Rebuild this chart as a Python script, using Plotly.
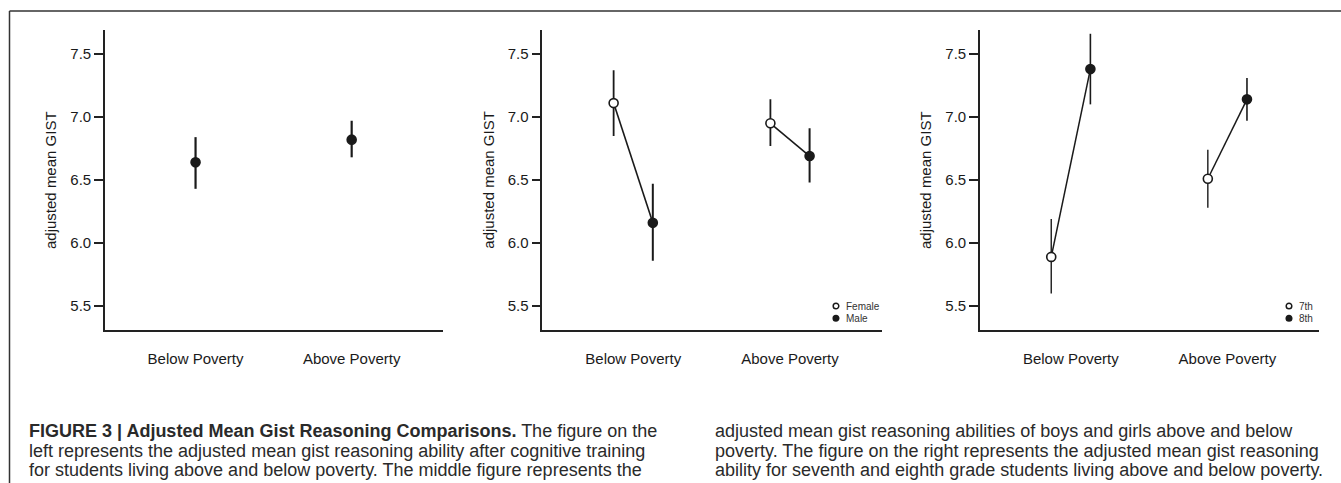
import plotly.graph_objects as go

# ---------------- data ----------------
categories = ["Below Poverty", "Above Poverty"]
y_ticks = [5.5, 6.0, 6.5, 7.0, 7.5]

# left panel: overall
overall_mean = [6.64, 6.82]
overall_lo = [6.43, 6.68]
overall_hi = [6.84, 6.97]

# middle panel: gender
female_mean = [7.11, 6.95]
female_lo = [6.85, 6.77]
female_hi = [7.37, 7.14]
male_mean = [6.16, 6.69]
male_lo = [5.86, 6.48]
male_hi = [6.47, 6.91]

# right panel: grade
g7_mean = [5.89, 6.51]
g7_lo = [5.60, 6.28]
g7_hi = [6.19, 6.74]
g8_mean = [7.38, 7.14]
g8_lo = [7.10, 6.97]
g8_hi = [7.66, 7.31]

legend_mid = ["Female", "Male"]
legend_right = ["7th", "8th"]

# ---------------- layout constants ----------------
W, H = 1341, 483
FONT = "Liberation Sans, Arial, Helvetica, sans-serif"
INK = "#1a1a1a"
DODGE = 0.125


def px(x):
    return x / W


def py(y):
    return 1 - y / H


panel_x = [(105, 443), (542.3, 881.7), (980, 1319)]
y_dom = [py(330), py(30)]

fig = go.Figure()

xi = list(range(len(categories)))


def err(mean, lo, hi):
    return [h - m for m, h in zip(mean, hi)], [m - l for m, l in zip(mean, lo)]


def add_points(xs, mean, lo, hi, filled, axis, ew, size=8):
    up, down = err(mean, lo, hi)
    fig.add_trace(go.Scatter(
        x=xs, y=mean, mode="markers",
        xaxis="x" + axis, yaxis="y" + axis,
        marker=dict(size=size, color=INK if filled else "white",
                    line=dict(color=INK, width=1.6), symbol="circle"),
        error_y=dict(type="data", symmetric=False, array=up, arrayminus=down,
                     color=INK, thickness=ew, width=0),
        showlegend=False, hoverinfo="y",
    ))


def add_connectors(ya, yb, axis, lw):
    for i in xi:
        fig.add_trace(go.Scatter(
            x=[i - DODGE, i + DODGE], y=[ya[i], yb[i]], mode="lines",
            xaxis="x" + axis, yaxis="y" + axis,
            line=dict(color=INK, width=lw), showlegend=False, hoverinfo="skip",
        ))


# panel 1
add_points(xi, overall_mean, overall_lo, overall_hi, True, "", 2.2, size=9)
# panel 2
add_connectors(female_mean, male_mean, "2", 1.6)
add_points([i - DODGE for i in xi], female_mean, female_lo, female_hi, False, "2", 1.8, size=9)
add_points([i + DODGE for i in xi], male_mean, male_lo, male_hi, True, "2", 2.0, size=9)
# panel 3
add_connectors(g7_mean, g8_mean, "3", 1.5)
add_points([i - DODGE for i in xi], g7_mean, g7_lo, g7_hi, False, "3", 1.4, size=9)
add_points([i + DODGE for i in xi], g8_mean, g8_lo, g8_hi, True, "3", 1.6, size=9)

axis_common_x = dict(
    range=[-0.58, 1.585], tickvals=xi, ticktext=categories,
    showline=True, linecolor="#222", linewidth=1.6, ticks="",
    showgrid=False, zeroline=False, fixedrange=True,
    tickfont=dict(family=FONT, size=15, color=INK), ticklabelstandoff=14,
)
axis_common_y = dict(
    range=[5.31, 7.69], tickvals=y_ticks, ticktext=[f"{v:.1f}" for v in y_ticks],
    showline=True, linecolor="#222", linewidth=1.6, ticks="outside",
    ticklen=9, tickwidth=1.6, tickcolor="#222",
    showgrid=False, zeroline=False, fixedrange=True,
    tickfont=dict(family=FONT, size=15, color=INK), ticklabelstandoff=0,
)

layout = dict(
    width=W, height=H, margin=dict(l=0, r=0, t=0, b=0),
    paper_bgcolor="white", plot_bgcolor="white",
    font=dict(family=FONT, color=INK),
    showlegend=False,
)
for k, (x0, x1) in enumerate(panel_x):
    sfx = "" if k == 0 else str(k + 1)
    layout["xaxis" + sfx] = dict(axis_common_x, domain=[px(x0), px(x1)],
                                 anchor="y" + sfx)
    layout["yaxis" + sfx] = dict(axis_common_y, domain=y_dom, anchor="x" + sfx)
fig.update_layout(**layout)

annotations = []
# y-axis titles
for xc in [50, 487.7, 925]:
    annotations.append(dict(
        x=px(xc), y=py(180), xref="paper", yref="paper", text="adjusted mean GIST",
        textangle=-90, showarrow=False, xanchor="center", yanchor="middle",
        font=dict(family=FONT, size=15, color=INK),
    ))

# legends (drawn inside panels)
shapes = []
for (mx, labels) in [(836, legend_mid), (1289, legend_right)]:
    for j, lab in enumerate(labels):
        yc = 306 + j * 12.3
        shapes.append(dict(
            type="circle", xref="paper", yref="paper",
            xsizemode="pixel", ysizemode="pixel",
            xanchor=px(mx), yanchor=py(yc),
            x0=-2.8, x1=2.8, y0=-2.8, y1=2.8,
            fillcolor="white" if j == 0 else INK,
            line=dict(color=INK, width=1.5),
        ))
        annotations.append(dict(
            x=px(mx + 8), y=py(yc), xref="paper", yref="paper", text=lab,
            showarrow=False, xanchor="left", yanchor="middle",
            font=dict(family=FONT, size=10, color="#333"),
        ))

# outer frame (left and top rules)
shapes.append(dict(type="line", xref="paper", yref="paper",
                   x0=px(9.5), x1=px(9.5), y0=0, y1=py(11),
                   line=dict(color="#333", width=1.5)))
shapes.append(dict(type="line", xref="paper", yref="paper",
                   x0=px(9.5), x1=1, y0=py(11), y1=py(11),
                   line=dict(color="#333", width=1.5)))

# caption
CAP_FONT = "Liberation Sans, Arial, sans-serif"
col1 = [
    "<b>FIGURE 3 | Adjusted Mean Gist Reasoning Comparisons.</b> The figure on the",
    "left represents the adjusted mean gist reasoning ability after cognitive training",
    "for students living above and below poverty. The middle figure represents the",
]
col2 = [
    "adjusted mean gist reasoning abilities of boys and girls above and below",
    "poverty. The figure on the right represents the adjusted mean gist reasoning",
    "ability for seventh and eighth grade students living above and below poverty.",
]
line_y = [431, 451, 470]
for xs, lines in [(27, col1), (713, col2)]:
    for yl, t in zip(line_y, lines):
        annotations.append(dict(
            x=px(xs), y=py(yl), xref="paper", yref="paper", text=t,
            showarrow=False, xanchor="left", yanchor="middle",
            font=dict(family=CAP_FONT, size=18, color="#2a2a2a"),
        ))

fig.update_layout(annotations=annotations, shapes=shapes)
fig.write_html(
    "out.html",
    config={"displayModeBar": False},
    post_script="document.body.style.margin='0px';document.body.style.overflow='hidden';",
)
